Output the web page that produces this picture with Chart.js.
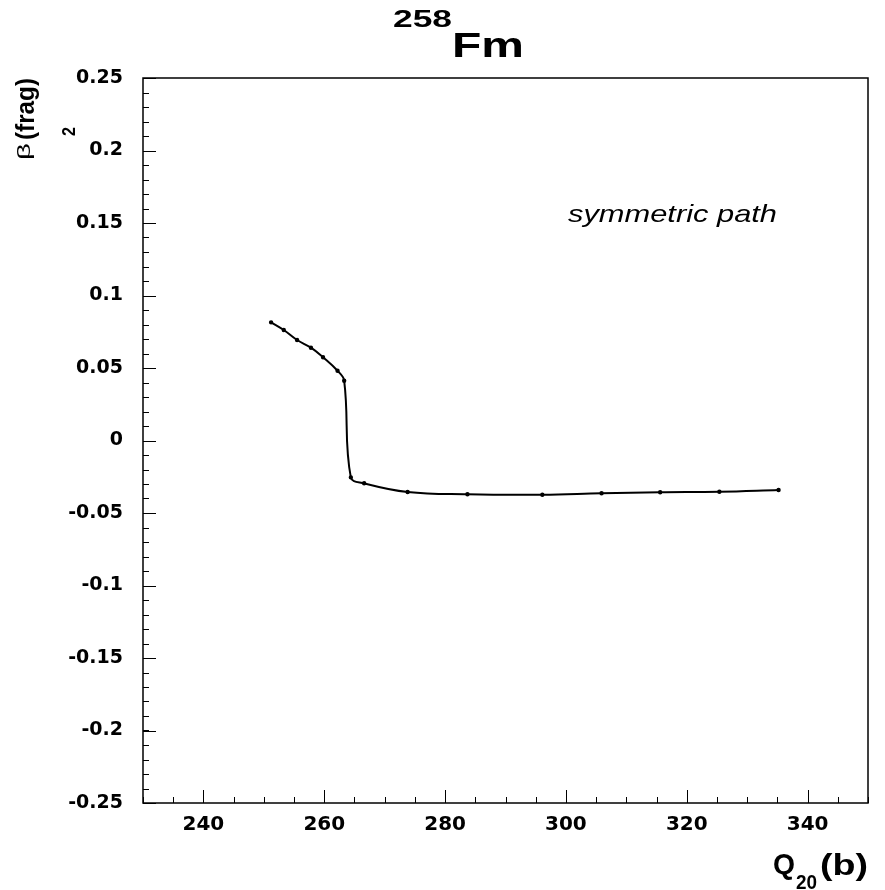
<!DOCTYPE html>
<html>
<head>
<meta charset="utf-8">
<script src="https://cdn.jsdelivr.net/npm/chart.js@4"></script>
<style>
  html, body { margin: 0; padding: 0; background: #fff; }
  canvas { display: block; }
</style>
</head>
<body>
<canvas id="betaChart" width="885" height="890"></canvas>
<script>
// quadrupole moment Q20 (b) along the symmetric path
const q20 = [251.2, 253.3, 255.5, 257.8, 259.8, 262.2, 263.3, 264.4, 266.6,
  273.8, 283.7, 296.1, 305.9, 315.6, 325.4, 335.2];
// fragment deformation beta2
const beta2 = [0.0815, 0.0762, 0.0693, 0.064, 0.0574, 0.0481, 0.0412, -0.0254,
  -0.0295, -0.0355, -0.0371, -0.0374, -0.0364, -0.0357, -0.0353, -0.0341];

const xRange = [230, 350];
const yRange = [-0.25, 0.25];
const xTicks = [240, 260, 280, 300, 320, 340];
const yTicks = [-0.25, -0.2, -0.15, -0.1, -0.05, 0, 0.05, 0.1, 0.15, 0.2, 0.25];

const SANS = '"Liberation Sans", Arial, Helvetica, sans-serif';
const TICK_FONT = "DejaVu Sans";

// draw text squeezed/stretched to a given advance width
function fitText(ctx, text, x, y, font, width) {
  ctx.font = font;
  const w = ctx.measureText(text).width;
  ctx.save();
  ctx.translate(x, y);
  ctx.scale(width / w, 1);
  ctx.fillText(text, 0, 0);
  ctx.restore();
}

// minor tick values between the major ones
function minorValues(scale, nDiv) {
  const t = scale.ticks.map((tk) => tk.value);
  if (t.length < 2) return [];
  const step = Math.abs(t[1] - t[0]) / nDiv;
  const out = [];
  const start = Math.ceil((scale.min - 1e-9) / step);
  for (let k = start; k * step <= scale.max + 1e-9; k++) {
    out.push(k * step);
  }
  return out;
}

// ROOT-style frame, inward ticks and the text labels
const framePlugin = {
  id: "frame",
  afterDraw(chart) {
    const ctx = chart.ctx;
    const area = chart.chartArea;
    const xs = chart.scales.x;
    const ys = chart.scales.y;

    ctx.save();
    ctx.strokeStyle = "#000";
    ctx.lineWidth = 1.5;
    ctx.strokeRect(area.left, area.top, area.right - area.left, area.bottom - area.top);

    ctx.lineWidth = 1;
    ctx.beginPath();
    minorValues(ys, 5).forEach((v) => {
      const y = Math.round(ys.getPixelForValue(v)) + 0.5;
      ctx.moveTo(area.left, y);
      ctx.lineTo(area.left + 6, y);
    });
    ys.ticks.forEach((tk) => {
      const y = Math.round(ys.getPixelForValue(tk.value)) + 0.5;
      ctx.moveTo(area.left, y);
      ctx.lineTo(area.left + 13, y);
    });
    minorValues(xs, 4).forEach((v) => {
      const x = Math.round(xs.getPixelForValue(v)) + 0.5;
      ctx.moveTo(x, area.bottom);
      ctx.lineTo(x, area.bottom - 6);
    });
    xs.ticks.forEach((tk) => {
      const x = Math.round(xs.getPixelForValue(tk.value)) + 0.5;
      ctx.moveTo(x, area.bottom);
      ctx.lineTo(x, area.bottom - 13);
    });
    ctx.stroke();

    ctx.fillStyle = "#000";
    ctx.textBaseline = "alphabetic";
    ctx.textAlign = "left";

    // title: 258Fm
    fitText(ctx, "258", 393, 27, "bold 24px " + SANS, 59);
    fitText(ctx, "Fm", 452, 57, "bold 35px " + SANS, 72);

    // label inside the frame
    fitText(ctx, "symmetric path", 568, 222, "italic 24px " + SANS, 209);

    // x axis title: Q20(b)
    fitText(ctx, "Q", 773, 874, "bold 30px " + SANS, 22);
    fitText(ctx, "20", 796, 889, "bold 20px " + SANS, 21);
    fitText(ctx, "(b)", 820, 875, "bold 30px " + SANS, 48);

    // y axis title: beta_2^(frag), rotated
    ctx.save();
    ctx.rotate(-Math.PI / 2);
    fitText(ctx, "\u03B2", -160, 30, "18px " + SANS, 17);
    fitText(ctx, "2", -136, 75, "bold 19px " + SANS, 9);
    fitText(ctx, "(frag)", -140, 34, "bold 25px " + SANS, 62);
    ctx.restore();

    ctx.restore();
  },
};

const ctx = document.getElementById("betaChart").getContext("2d");

new Chart(ctx, {
  type: "line",
  data: {
    datasets: [
      {
        data: q20.map((q, i) => ({ x: q, y: beta2[i] })),
        borderColor: "#000",
        backgroundColor: "#000",
        borderWidth: 2,
        pointRadius: 1.2,
        pointHoverRadius: 1.2,
        tension: 0.4,
        fill: false,
      },
    ],
  },
  options: {
    responsive: false,
    animation: false,
    layout: { padding: { top: 78, right: 17, left: 0, bottom: 0 } },
    plugins: {
      legend: { display: false },
      tooltip: { enabled: false },
    },
    scales: {
      x: {
        type: "linear",
        min: xRange[0],
        max: xRange[1],
        border: { display: false },
        grid: { display: false, drawTicks: false },
        afterFit: (s) => { s.height = 87; },
        afterBuildTicks: (s) => { s.ticks = xTicks.map((v) => ({ value: v })); },
        ticks: {
          maxRotation: 0,
          autoSkip: false,
          padding: 10,
          color: "#000",
          font: { family: TICK_FONT, size: 20, weight: "bold" },
        },
      },
      y: {
        type: "linear",
        min: yRange[0],
        max: yRange[1],
        border: { display: false },
        grid: { display: false, drawTicks: false },
        afterFit: (s) => { s.width = 143; },
        afterBuildTicks: (s) => { s.ticks = yTicks.map((v) => ({ value: v })); },
        ticks: {
          autoSkip: false,
          padding: 20,
          color: "#000",
          font: { family: TICK_FONT, size: 19, weight: "bold" },
          callback: (v) => String(Number(v.toFixed(2))),
        },
      },
    },
  },
  plugins: [framePlugin],
});
</script>
</body>
</html>
